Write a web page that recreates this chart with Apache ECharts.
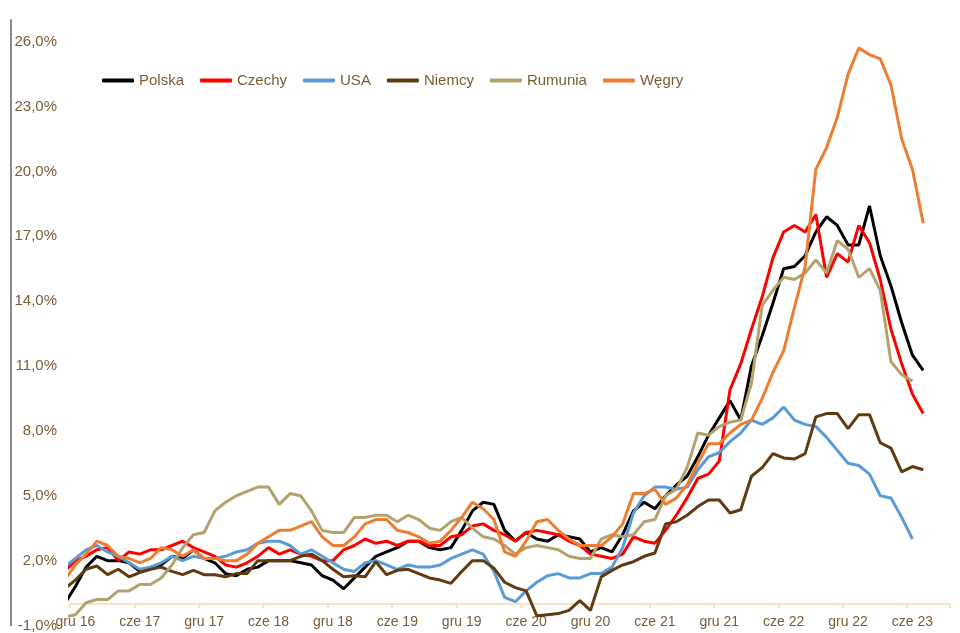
<!DOCTYPE html>
<html>
<head>
<meta charset="utf-8">
<script src="https://cdn.jsdelivr.net/npm/echarts@6/dist/echarts.min.js"></script>
<style>html,body{margin:0;padding:0;background:#fff}#c{width:960px;height:633px}</style>
</head>
<body>
<div id="c"></div>
<script>
// Month names (Polish) and years used for the category axis
const monthNames = ['sty','lut','mar','kwi','maj','cze','lip','sie','wrz','paź','lis','gru'];
// categories: Dec 2016 .. Sep 2023 (82 months)
const categories = [];
for (let i = 0; i < 82; i++) {
  const mi = (11 + i) % 12;
  const yr = 16 + Math.floor((11 + i) / 12);
  categories.push(monthNames[mi] + ' ' + yr);
}
// y-axis tick labels
const yTicks = [-1, 2, 5, 8, 11, 14, 17, 20, 23, 26];

// Series values, y/y %, starting Nov 2016 (index -1, clipped at the left edge)
const polska = [0.0, 0.8,
 1.7, 2.2, 2.0, 2.0, 1.9, 1.5, 1.7, 1.8, 2.2, 2.1, 2.5, 2.1,
 1.9, 1.4, 1.3, 1.6, 1.7, 2.0, 2.0, 2.0, 1.9, 1.8, 1.3, 1.1,
 0.7, 1.2, 1.7, 2.2, 2.4, 2.6, 2.9, 2.9, 2.6, 2.5, 2.6, 3.4,
 4.3, 4.7, 4.6, 3.4, 2.9, 3.3, 3.0, 2.9, 3.2, 3.1, 3.0, 2.4,
 2.6, 2.4, 3.2, 4.3, 4.7, 4.4, 5.0, 5.5, 5.9, 6.8, 7.8, 8.6,
 9.4, 8.5, 11.0, 12.4, 13.9, 15.5, 15.6, 16.1, 17.2, 17.9, 17.5, 16.6,
 16.6, 18.4, 16.1, 14.7, 13.0, 11.5, 10.8];
const czechy = [1.5, 2.0,
 2.2, 2.5, 2.6, 2.0, 2.4, 2.3, 2.5, 2.5, 2.7, 2.9, 2.6, 2.4,
 2.2, 1.8, 1.7, 1.9, 2.2, 2.6, 2.3, 2.5, 2.3, 2.2, 2.0, 2.0,
 2.5, 2.7, 3.0, 2.8, 2.9, 2.7, 2.9, 2.9, 2.7, 2.7, 3.1, 3.2,
 3.6, 3.7, 3.4, 3.2, 2.9, 3.3, 3.4, 3.3, 3.2, 2.9, 2.7, 2.3,
 2.2, 2.1, 2.3, 3.1, 2.9, 2.8, 3.4, 4.1, 4.9, 5.8, 6.0, 6.6,
 9.9, 11.1, 12.7, 14.2, 16.0, 17.2, 17.5, 17.2, 18.0, 15.1, 16.2, 15.8,
 17.5, 16.7, 15.0, 12.7, 11.1, 9.7, 8.8];
const usa = [1.7, 2.1,
 2.5, 2.7, 2.4, 2.2, 1.9, 1.6, 1.7, 1.9, 2.2, 2.0, 2.2, 2.1,
 2.1, 2.2, 2.4, 2.5, 2.8, 2.9, 2.9, 2.7, 2.3, 2.5, 2.2, 1.9,
 1.6, 1.5, 1.9, 2.0, 1.8, 1.6, 1.8, 1.7, 1.7, 1.8, 2.1, 2.3,
 2.5, 2.3, 1.5, 0.3, 0.1, 0.6, 1.0, 1.3, 1.4, 1.2, 1.2, 1.4,
 1.4, 1.7, 2.6, 4.2, 5.0, 5.4, 5.4, 5.3, 5.4, 6.2, 6.8, 7.0,
 7.5, 7.9, 8.5, 8.3, 8.6, 9.1, 8.5, 8.3, 8.2, 7.7, 7.1, 6.5,
 6.4, 6.0, 5.0, 4.9, 4.0, 3.0];
const niemcy = [0.7, 1.1,
 1.6, 1.75, 1.35, 1.6, 1.25, 1.45, 1.6, 1.7, 1.5, 1.35, 1.55, 1.35,
 1.35, 1.25, 1.4, 1.4, 2.0, 2.0, 2.0, 2.0, 2.2, 2.3, 2.0, 1.6,
 1.25, 1.3, 1.25, 1.95, 1.35, 1.55, 1.6, 1.4, 1.2, 1.1, 0.95, 1.5,
 2.0, 2.0, 1.65, 1.0, 0.75, 0.6, -0.55, -0.5, -0.45, -0.3, 0.15, -0.3,
 1.25, 1.55, 1.8, 1.95, 2.2, 2.35, 3.7, 3.8, 4.1, 4.5, 4.8, 4.8,
 4.2, 4.35, 5.9, 6.3, 6.95, 6.75, 6.7, 6.95, 8.65, 8.8, 8.8, 8.1,
 8.75, 8.75, 7.45, 7.2, 6.1, 6.35, 6.2];
const rumunia = [-0.6, -0.5,
 0.05, 0.2, 0.2, 0.6, 0.6, 0.9, 0.9, 1.2, 1.8, 2.6, 3.2, 3.3,
 4.3, 4.7, 5.0, 5.2, 5.4, 5.4, 4.6, 5.1, 5.0, 4.3, 3.4, 3.3,
 3.3, 4.0, 4.0, 4.1, 4.1, 3.8, 4.1, 3.9, 3.5, 3.4, 3.8, 4.0,
 3.5, 3.1, 3.0, 2.7, 2.3, 2.6, 2.7, 2.6, 2.5, 2.2, 2.1, 2.1,
 3.0, 3.2, 3.1, 3.2, 3.8, 3.9, 5.0, 5.3, 6.3, 7.9, 7.8, 8.2,
 8.4, 8.5, 10.2, 13.8, 14.5, 15.1, 15.0, 15.3, 15.9, 15.3, 16.8, 16.4,
 15.1, 15.5, 14.5, 11.2, 10.6, 10.3];
const wegry = [1.1, 1.8,
 2.3, 2.9, 2.7, 2.2, 2.1, 1.9, 2.1, 2.6, 2.5, 2.2, 2.5, 2.1,
 2.1, 2.0, 2.0, 2.3, 2.8, 3.1, 3.4, 3.4, 3.6, 3.8, 3.1, 2.7,
 2.7, 3.1, 3.7, 3.9, 3.9, 3.4, 3.3, 3.1, 2.8, 2.9, 3.4, 4.0,
 4.7, 4.4, 3.9, 2.4, 2.2, 2.9, 3.8, 3.9, 3.4, 3.0, 2.7, 2.7,
 2.7, 3.1, 3.7, 5.1, 5.1, 5.3, 4.6, 4.9, 5.5, 6.5, 7.4, 7.4,
 7.9, 8.3, 8.5, 9.5, 10.7, 11.7, 13.7, 15.6, 20.1, 21.1, 22.5, 24.5,
 25.7, 25.4, 25.2, 24.0, 21.5, 20.1, 17.6];

const seriesDefs = [
  {name: 'Polska', data: polska, color: '#000000'},
  {name: 'Czechy', data: czechy, color: '#ff0000'},
  {name: 'USA', data: usa, color: '#5b9bd5'},
  {name: 'Niemcy', data: niemcy, color: '#603a10'},
  {name: 'Rumunia', data: rumunia, color: '#b3a26c'},
  {name: 'Węgry', data: wegry, color: '#ed7d31'}
];

const txt = '#7b5b36';
const font = 'Liberation Sans, Arial, sans-serif';

const chart = echarts.init(document.getElementById('c'));
chart.setOption({
  animation: false,
  grid: {left: 70, right: 10, top: 20, bottom: 7.5, containLabel: false},
  legend: {
    left: 97, top: 68, icon: 'roundRect', itemWidth: 32, itemHeight: 4, itemGap: 16,
    textStyle: {fontSize: 15, color: txt, fontFamily: font},
    data: seriesDefs.map(s => s.name)
  },
  xAxis: [
    {type: 'value', min: -0.5, max: 81.5, position: 'top', show: false,
     axisLine: {show: false, onZero: false}},
    {type: 'category', data: categories, boundaryGap: true, position: 'bottom',
     axisLine: {show: true, onZero: true, lineStyle: {color: '#f8d8bc', width: 1.5}},
     axisTick: {show: true, interval: 5, length: 4, lineStyle: {color: '#f8d8bc', width: 1.5}},
     axisLabel: {show: false}, splitLine: {show: false}},
    {type: 'category', data: categories, boundaryGap: true, position: 'bottom',
     axisLine: {show: false, onZero: false}, axisTick: {show: false}, splitLine: {show: false},
     axisLabel: {interval: 5, margin: -10, color: txt, fontSize: 14, fontFamily: font}}
  ],
  yAxis: {
    type: 'value', min: -1, max: 27, interval: 1, position: 'left', offset: 59,
    axisLine: {show: true, onZero: false, lineStyle: {color: '#8a8a8a', width: 2}},
    axisTick: {show: false}, splitLine: {show: false},
    axisLabel: {
      inside: true, margin: 46, align: 'right', color: txt, fontSize: 15, fontFamily: font,
      formatter: v => yTicks.indexOf(Math.round(v)) >= 0 && Math.abs(v - Math.round(v)) < 1e-6
        ? v.toFixed(1).replace('.', ',') + '%' : ''
    }
  },
  series: seriesDefs.map(s => ({
    name: s.name, type: 'line', xAxisIndex: 0, yAxisIndex: 0,
    data: s.data.map((v, i) => [i - 1, v]),
    symbol: 'none', clip: true,
    lineStyle: {color: s.color, width: 3},
    itemStyle: {color: s.color}
  }))
});
</script>
</body>
</html>
